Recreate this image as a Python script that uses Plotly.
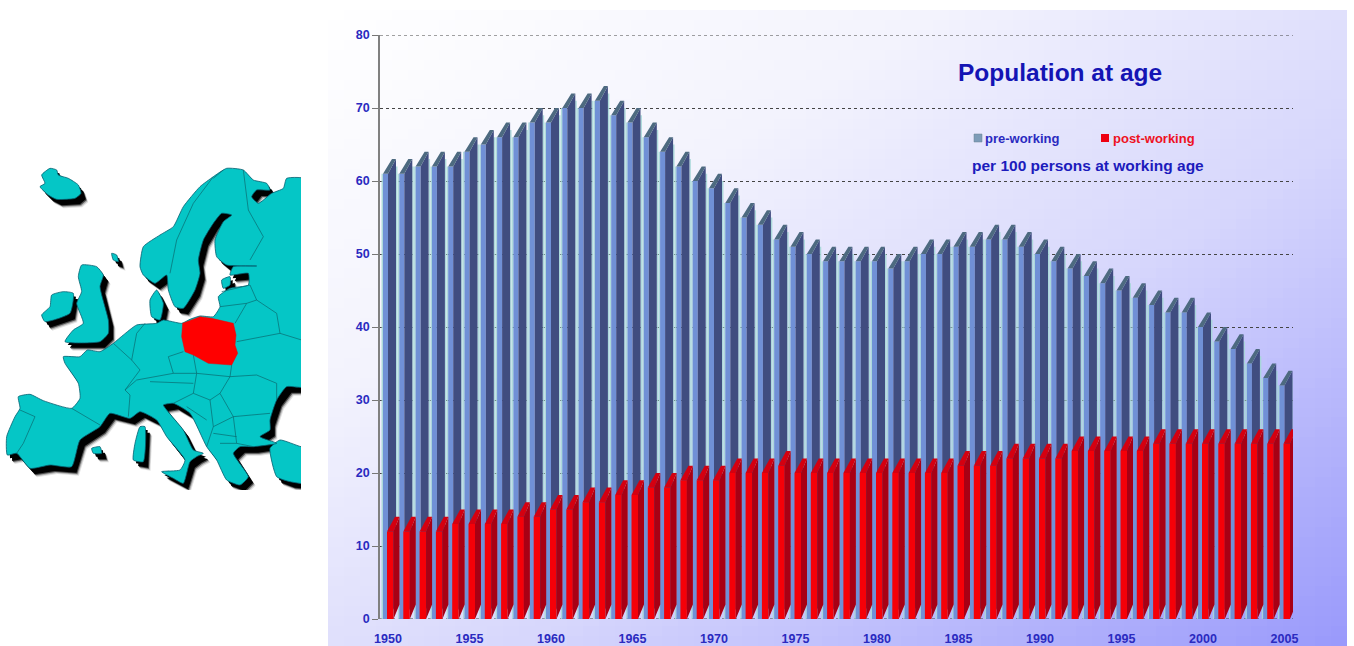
import numpy as np
import plotly.graph_objects as go

# ---- data -------------------------------------------------------------
years = list(range(1950, 2006))
pre_working = [61,61,62,62,62,64,65,66,66,68,68,70,70,71,69,68,66,64,62,60,59,57,55,54,52,51,
               50,49,49,49,49,48,49,50,50,51,51,52,52,51,50,49,48,47,46,45,44,43,42,42,40,38,37,35,33,32]
post_working = [12,12,12,12,13,13,13,13,14,14,15,15,16,16,17,17,18,18,19,19,19,20,20,20,21,
                20,20,20,20,20,20,20,20,20,20,21,21,21,22,22,22,22,23,23,23,23,23,24,24,24,24,24,24,24,24,24]
y_ticks = [0,10,20,30,40,50,60,70,80]
x_ticks = [1950,1955,1960,1965,1970,1975,1980,1985,1990,1995,2000,2005]

# ---- style ------------------------------------------------------------
PX = 16.3                 # px per year on the x axis
X0, X1, Y0, Y1 = 380, 1293, 619, 35
BLUE = "#2020b8"
W, H = 1354, 646
XMIN, XMAX = 1950+(X0-388)/PX, 1950+(X1-388)/PX

def prism(vals, left, mid, right, dx, dy=2.0):
    """three faces of every bar, in axis units"""
    fx, fy, sx, sy, tx, ty = [], [], [], [], [], []
    for yr, v in zip(years, vals):
        a, b, c = yr + left/PX, yr + mid/PX, yr + right/PX
        d = dx/PX
        fx += [a, b, b, a, a, None]; fy += [0, 0, v, v, 0, None]
        sx += [b, c, c, b, b, None]; sy += [0, dy, v+dy, v, 0, None]
        tx += [a, b, c, a+d, a, None]; ty += [v, v, v+dy, v+dy, v, None]
    return (fx, fy), (sx, sy), (tx, ty)

fig = go.Figure()

# ---- panel gradient (page-pixel axes x/y) -----------------------------
gx = np.linspace(328, 1347, 65)
gy = np.linspace(10, 646, 65)
u = (gx[:-1] + gx[1:] - 2*328) / 2 / (1347-328)
v = (gy[:-1] + gy[1:] - 2*10) / 2 / (646-10)
z = (u[None, :] + v[:, None]) / 2
fig.add_trace(go.Heatmap(x=gx, y=gy, z=z, zmin=0, zmax=1, showscale=False, hoverinfo="skip",
    colorscale=[[0,"#ffffff"],[0.3,"#f3f3fd"],[0.6,"#d6d6fc"],[1,"#9999fb"]]))

# ---- map, zoom-crop coordinates converted to page pixels --------------
def P(pts):
    return [p[0]/3 for p in pts], [160 + p[1]/3 for p in pts]

LAND = [
 [(125,45),(150,25),(170,30),(175,45),(205,55),(235,75),(243,100),(225,115),(170,118),(145,105),(120,80),(135,70)],
 [(245,315),(290,320),(310,345),(300,380),(325,480),(325,520),(300,545),(195,545),(220,510),(250,490),(230,430),(245,395),(235,350)],
 [(155,405),(190,395),(220,400),(210,460),(135,485),(125,465),(150,440)],
 [(420,800),(435,800),(430,905),(400,900),(405,850)],
 [(810,865),(840,840),(903,860),(930,860),(930,970),(870,965),(830,950)],
 [(450,420),(470,390),(490,430),(480,480),(455,470)],
 [(275,865),(300,860),(305,880),(280,880)],
 [(335,280),(350,285),(355,305),(340,300)],
 [(665,360),(690,350),(690,375),(670,385)],
 [(22,885),(20,830),(45,770),(60,745),(55,710),(90,703),(130,722),(215,745),(240,715),(235,670),(195,610),(190,590),
  (240,590),(262,570),(300,575),(340,550),(370,525),(410,495),(470,490),(490,480),(545,490),(570,478),(600,468),(640,470),
  (660,440),(655,410),(690,385),(745,375),(745,340),(690,345),(700,320),(770,318),(680,315),(650,290),(645,240),(670,185),
  (695,165),(665,160),(640,190),(610,240),(595,300),(600,340),(585,390),(550,445),(525,440),(505,390),(500,345),(465,370),
  (430,345),(420,320),(430,260),(480,225),(520,200),(550,140),(600,80),(640,50),(680,25),(730,30),(760,60),(800,70),(810,90),
  (770,90),(755,110),(775,130),(815,100),(850,85),(860,55),(930,60),(930,680),(860,680),(830,720),(810,780),(810,810),(780,830),
  (830,850),(760,860),(720,860),(700,880),(745,950),(720,975),(680,960),(650,900),(620,860),(570,760),(520,730),(490,735),
  (500,750),(550,810),(580,870),(610,880),(590,890),(570,905),(550,970),(520,955),(485,935),(540,930),(555,900),(500,830),
  (470,780),(420,755),(390,775),(330,760),(300,800),(240,840),(215,920),(150,915),(90,925),(50,880)],
]
POLAND = [(548,490),(600,470),(635,475),(700,490),(708,525),(705,555),(713,580),(695,615),(625,610),(580,585),(555,575),(545,530)]
BORDERS = [
 [(215,745),(300,795)], [(60,750),(105,770),(70,850),(50,880)],
 [(340,550),(395,600),(420,630),(375,690),(390,705),(385,770)],
 [(395,600),(410,520),(435,490)], [(550,575),(505,590),(520,640),(410,660),(375,690)],
 [(640,50),(580,130),(530,240),(510,340)], [(640,55),(670,30)],
 [(730,30),(745,150),(790,230),(750,300)],
 [(665,395),(750,375),(770,420)], [(660,440),(740,430),(770,420)],
 [(705,490),(740,430)], [(770,420),(830,460),(840,520),(905,540)], [(710,545),(840,520)],
 [(695,615),(690,650),(770,645),(830,670),(830,720)],
 [(580,585),(590,640),(690,650)], [(520,640),(590,640),(580,700),(520,730)],
 [(450,665),(580,670)], [(580,700),(630,720),(660,700),(690,650)], [(660,700),(700,770),(810,760)],
 [(630,720),(640,800),(620,860)], [(640,800),(700,770),(710,850)], [(560,740),(620,780)],
 [(640,820),(710,830)], [(660,850),(710,850),(760,860)],
]
# soft black drop shadow
for off, col, op in [(27,"#aaaaaa",0.35),(24,"#777777",0.5),(21,"#333333",0.8),(18,"#000000",1),(10,"#000000",1)]:
    for poly in LAND:
        xs, ys = P([(a+off*0.8, b+off) for a, b in poly] + [(poly[0][0]+off*0.8, poly[0][1]+off)])
        fig.add_trace(go.Scatter(x=xs, y=ys, mode="lines", fill="toself", fillcolor=col, opacity=op,
                                 line=dict(width=0), hoverinfo="skip", showlegend=False))
for poly in LAND:
    xs, ys = P(poly + [poly[0]])
    fig.add_trace(go.Scatter(x=xs, y=ys, mode="lines", fill="toself", fillcolor="#05c6c6",
                             line=dict(width=0.8, color="#056070", shape="spline", smoothing=0.5),
                             hoverinfo="skip", showlegend=False))
for seg in BORDERS:
    xs, ys = P(seg)
    fig.add_trace(go.Scatter(x=xs, y=ys, mode="lines", line=dict(width=0.7, color="#0a6a70"),
                             hoverinfo="skip", showlegend=False))
xs, ys = P(POLAND + [POLAND[0]])
fig.add_trace(go.Scatter(x=xs, y=ys, mode="lines", fill="toself", fillcolor="#ff0000",
                         line=dict(width=0.5, color="#ee0000"), hoverinfo="skip", showlegend=False))

# ---- bars on the chart axes ------------------------------------------
# plotly drops the gridlines that fall on the axis ends: draw those two here
for val in (y_ticks[0], y_ticks[-1]):
    fig.add_trace(go.Scatter(x=[XMIN, XMAX], y=[val, val], mode="lines", xaxis="x2", yaxis="y2",
                             line=dict(color="#444444", width=1, dash="dot"), cliponaxis=False,
                             hoverinfo="skip", showlegend=False))

def add_faces(faces, colors, name):
    for (xs, ys), col in zip(faces, colors):
        fig.add_trace(go.Scatter(x=xs, y=ys, mode="lines", fill="toself", fillcolor=col, name=name,
                                 line=dict(width=0), xaxis="x2", yaxis="y2", cliponaxis=False,
                                 hoverinfo="skip", showlegend=False))

# pale edges of the blue bars
ex, ey = [], []
for yr, v_ in zip(years, pre_working):
    ex += [yr-5.7/PX, yr-5.7/PX, None, yr+8.7/PX, yr+8.7/PX, None]
    ey += [0, v_, None, 2, v_+1, None]
fig.add_trace(go.Scatter(x=ex, y=ey, mode="lines", line=dict(width=1.5, color="rgba(165,215,215,0.9)"),
                         xaxis="x2", yaxis="y2", cliponaxis=False, hoverinfo="skip", showlegend=False))
blue_faces = prism(pre_working, -5, 0, 8, 9)
add_faces(blue_faces, ["#7090d6", "#404d80", "#4d6a80"], "pre-working")
red_faces = prism(post_working, -1, 5.5, 11.5, 8)
add_faces(red_faces, ["#f50008", "#a80014", "#d40010"], "post-working")

# ---- text -------------------------------------------------------------
def T(x, y, s, size, color=BLUE, bold=True):
    return dict(x=x, y=y, xref="x", yref="y", text=f"<b>{s}</b>" if bold else s, showarrow=False,
                xanchor="left", yanchor="middle", font=dict(family="Liberation Sans", size=size, color=color))
annotations = [
    T(956, 72, "Population at age", 24.5, "#1414b4"),
    T(983, 138, "pre-working", 13, "#2a2ac0"),
    T(1111, 138, "post-working", 13, "#ee1122"),
    T(970, 165, "per 100 persons at working age", 15.5, "#1c1cbc"),
]
WHITE = dict(color="white", width=0)
shapes = [
    dict(type="rect", xref="x", yref="y", x0=974, x1=982, y0=134, y1=142, fillcolor="#7d9cb8", line=dict(color="#6a8090", width=0.5)),
    dict(type="rect", xref="x", yref="y", x0=1101, x1=1109, y0=134, y1=142, fillcolor="#ee0011", line=dict(width=0)),
    # crop the map picture
    dict(type="rect", xref="x", yref="y", x0=301, x1=327, y0=150, y1=510, fillcolor="white", line=WHITE),
    dict(type="rect", xref="x", yref="y", x0=0, x1=327, y0=490, y1=520, fillcolor="white", line=WHITE),
]

tickfont = dict(family="Liberation Sans", size=12.5, color="#2a2ac0", weight="bold")
fig.update_layout(
    width=W, height=H, autosize=False, margin=dict(l=0, r=0, t=0, b=0),
    paper_bgcolor="white", plot_bgcolor="rgba(0,0,0,0)", showlegend=False,
    xaxis=dict(domain=[0, 1], range=[0, W], visible=False, fixedrange=True, automargin=False),
    yaxis=dict(domain=[0, 1], range=[H, 0], visible=False, fixedrange=True, automargin=False),
    xaxis2=dict(domain=[X0/W, X1/W], range=[XMIN, XMAX], anchor="y2", automargin=False,
                tickmode="array", tickvals=x_ticks, ticks="outside", ticklen=8, tickcolor="rgba(0,0,0,0)",
                showgrid=False, zeroline=False, showline=False, tickfont=tickfont),
    yaxis2=dict(domain=[(H-Y0)/H, (H-Y1)/H], range=[0, 80], anchor="x2", automargin=False,
                tickmode="array", tickvals=y_ticks, ticks="outside", ticklen=6, tickcolor="#777777",
                showgrid=True, gridcolor="#444444", griddash="dot", gridwidth=1, zeroline=False,
                showline=True, linecolor="#808080", linewidth=1.5, tickfont=tickfont),
    annotations=annotations, shapes=shapes,
)
fig.write_html("out.html", config={"displayModeBar": False},
               post_script="document.body.style.margin='0';")
